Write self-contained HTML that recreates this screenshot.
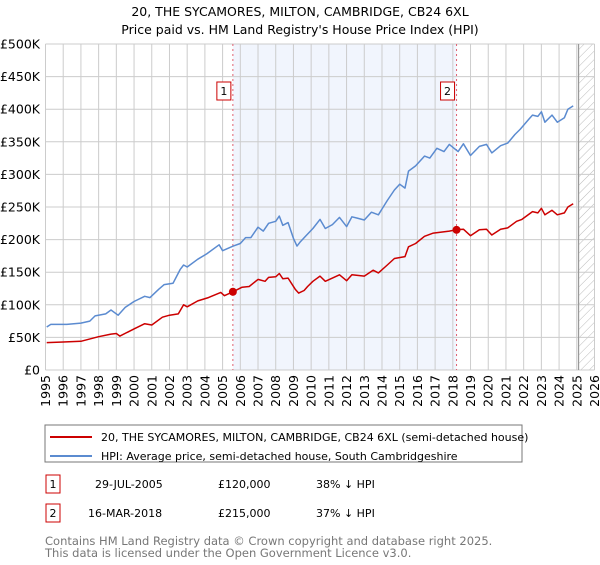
<!DOCTYPE html>
<html><head><meta charset="utf-8"><style>
body{margin:0;background:#fff;font-family:"Liberation Sans","DejaVu Sans",sans-serif;}
svg text{font-family:"DejaVu Sans","Liberation Sans",sans-serif;}
</style></head><body>
<svg id="chart" width="600" height="560" xmlns="http://www.w3.org/2000/svg">
<defs><pattern id="hatch" width="6" height="6" patternUnits="userSpaceOnUse" patternTransform="rotate(45)"><line x1="0" y1="0" x2="0" y2="6" stroke="#bbb" stroke-width="1"/></pattern></defs>
<text x="300" y="16" text-anchor="middle" font-size="12.5">20, THE SYCAMORES, MILTON, CAMBRIDGE, CB24 6XL</text>
<text x="300" y="34" text-anchor="middle" font-size="12.5">Price paid vs. HM Land Registry's House Price Index (HPI)</text>
<g id="plot"></g>
<rect x="45" y="425" width="477" height="37" fill="#fff" stroke="#777"/>
<line x1="50" y1="437" x2="92" y2="437" stroke="#cc0000" stroke-width="2"/>
<text x="101" y="441" font-size="11">20, THE SYCAMORES, MILTON, CAMBRIDGE, CB24 6XL (semi-detached house)</text>
<line x1="50" y1="456" x2="92" y2="456" stroke="#5b8bd0" stroke-width="2"/>
<text x="101" y="460" font-size="11">HPI: Average price, semi-detached house, South Cambridgeshire</text>
<g font-size="11">
<rect x="46" y="475" width="14" height="18" fill="#fff" stroke="#cc0000"/>
<text x="53" y="488" text-anchor="middle">1</text>
<text x="95" y="488">29-JUL-2005</text><text x="218" y="488">£120,000</text><text x="316" y="488">38% ↓ HPI</text>
<rect x="46" y="504" width="14" height="18" fill="#fff" stroke="#cc0000"/>
<text x="53" y="517" text-anchor="middle">2</text>
<text x="88" y="517">16-MAR-2018</text><text x="218" y="517">£215,000</text><text x="316" y="517">37% ↓ HPI</text>
</g>
<text x="45" y="545" font-size="11.5" fill="#777">Contains HM Land Registry data © Crown copyright and database right 2025.</text>
<text x="45" y="557" font-size="11.5" fill="#777">This data is licensed under the Open Government Licence v3.0.</text>
</svg>
<script>
const hpiYears=[1995.07,1995.3,1996.2,1997,1997.5,1997.8,1998.4,1998.7,1999.1,1999.5,2000,2000.6,2000.9,2001.4,2001.7,2002.2,2002.6,2002.8,2003,2003.6,2004.1,2004.8,2005,2005.6,2006,2006.3,2006.6,2007,2007.3,2007.6,2008,2008.2,2008.4,2008.7,2009,2009.2,2009.4,2009.75,2010.1,2010.5,2010.8,2011.2,2011.6,2012,2012.3,2012.6,2013,2013.4,2013.8,2014.3,2014.7,2015,2015.3,2015.5,2015.9,2016.4,2016.7,2017.1,2017.5,2017.8,2018.3,2018.6,2019,2019.5,2019.9,2020.2,2020.7,2021.1,2021.5,2021.8,2022.3,2022.5,2022.8,2023,2023.2,2023.6,2023.9,2024.3,2024.5,2024.8];
const hpiValues=[66,70,70,72,75,83,86,92,84,96,105,113,111,124,131,133,154,161,158,170,178,192,183,190,194,203,203,219,213,225,228,236,222,226,202,190,197,207,217,231,217,223,234,220,235,233,230,242,238,260,276,285,279,305,313,328,325,340,335,346,335,347,329,343,346,333,344,348,361,369,385,391,389,396,380,391,380,387,400,405];
const priceYears=[1995.07,1996,1997,1998,1998.7,1999,1999.2,2000,2000.6,2001,2001.6,2002,2002.5,2002.8,2003,2003.6,2004.2,2004.9,2005.1,2005.58,2006.1,2006.5,2007,2007.4,2007.6,2008,2008.2,2008.4,2008.7,2009.1,2009.3,2009.6,2009.8,2010.1,2010.5,2010.8,2011.2,2011.6,2012,2012.3,2013,2013.5,2013.8,2014.3,2014.7,2015.3,2015.5,2015.9,2016.4,2016.9,2017.8,2018.2,2018.6,2019,2019.5,2019.9,2020.2,2020.7,2021.1,2021.6,2021.9,2022.5,2022.8,2023,2023.2,2023.6,2023.9,2024.3,2024.5,2024.8];
const priceValues=[42,43,44,51,55,56,52,63,71,69,81,84,86,100,97,106,111,119,114,120,127,128,139,136,142,143,148,140,141,124,118,122,128,136,144,136,141,146,137,146,144,153,149,161,171,174,189,194,205,210,213,215,216,206,215,216,207,216,218,228,231,243,241,248,238,245,238,241,250,255];
const sales=[{n:"1",year:2005.58,value:120},{n:"2",year:2018.21,value:215}];
const yTicks=[0,50,100,150,200,250,300,350,400,450,500];
const xTicks=[1995,1996,1997,1998,1999,2000,2001,2002,2003,2004,2005,2006,2007,2008,2009,2010,2011,2012,2013,2014,2015,2016,2017,2018,2019,2020,2021,2022,2023,2024,2025,2026];
const X0=45.5,X1=594.5,Y0=370,Y1=44;
const xs=y=>X0+(y-1995)/31*(X1-X0);
const ys=v=>Y0-v/500*(Y0-Y1);
const NS="http://www.w3.org/2000/svg";
const g=document.getElementById('plot');
function mk(t,a){const e=document.createElementNS(NS,t);for(const k in a)e.setAttribute(k,a[k]);g.appendChild(e);return e;}
let e=mk('rect',{x:xs(sales[0].year),y:Y1,width:xs(sales[1].year)-xs(sales[0].year),height:Y0-Y1,fill:'#eef3fc',opacity:0.8});


e=mk('rect',{x:xs(2025.1),y:Y1,width:X1-xs(2025.1),height:Y0-Y1,fill:'url(#hatch)'});


xTicks.forEach((t,i)=>{
 const l=mk('line',{x1:xs(t),x2:xs(t),y1:Y1,y2:Y0,stroke:'#ccc','stroke-width':1});
 
 
 const bx=xs(t)+4.5, by=375;
 const tx=mk('text',{x:bx,y:by,'text-anchor':'end','font-size':12.5,transform:'rotate(-90 '+bx+' '+by+')'});
 tx.textContent=t;
 
 
});
yTicks.forEach(v=>{
 const l=mk('line',{x1:X0,x2:X1,y1:ys(v),y2:ys(v),stroke:'#ccc','stroke-width':1});
 
 
 const tx=mk('text',{x:40,y:ys(v)+4.5,'text-anchor':'end','font-size':12.5});
 tx.textContent=v===0?'£0':'£'+v+'K';
 
 
});
e=mk('line',{x1:xs(2025.1),x2:xs(2025.1),y1:Y1,y2:Y0,stroke:'#999','stroke-width':1.2});


sales.forEach(s=>{
 const l=mk('line',{x1:xs(s.year),x2:xs(s.year),y1:Y1,y2:Y0,stroke:'#e06070','stroke-width':1,'stroke-dasharray':'2,3'});
 
 
 const r=mk('rect',{x:xs(s.year)-16,y:82,width:14,height:18,fill:'#fff',stroke:'#cc0000'});
 
 
 const t=mk('text',{x:xs(s.year)-9,y:95,'text-anchor':'middle','font-size':11});
 t.textContent=s.n;
 
 
});
function line(xa,va,c,name){
 const p=mk('polyline',{points:xa.map((y,i)=>xs(y).toFixed(1)+','+ys(va[i]).toFixed(1)).join(' '),fill:'none',stroke:c,'stroke-width':1.5,'stroke-linejoin':'round'});
 
 
}
line(hpiYears,hpiValues,'#5b8bd0','hpi-line');
line(priceYears,priceValues,'#cc0000','price-line');
sales.forEach(s=>{
 const c=mk('circle',{cx:xs(s.year),cy:ys(s.value),r:4,fill:'#cc0000'});
 
 
});
</script>
</body></html>
